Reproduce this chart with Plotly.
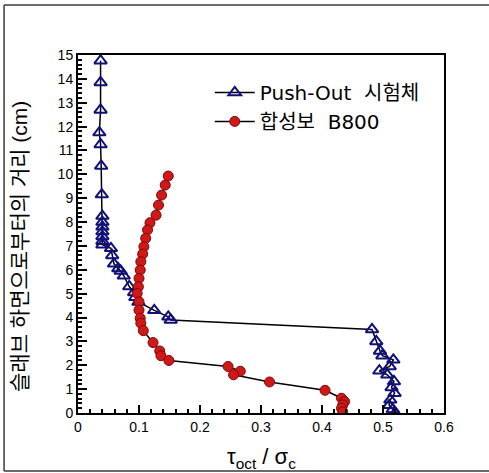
import plotly.graph_objects as go

# Push-Out specimen: stress ratio vs. height above slab bottom
push_x = [0.037, 0.037, 0.037, 0.035, 0.037, 0.038, 0.039, 0.040, 0.040, 0.040,
          0.040, 0.040, 0.040, 0.040, 0.054, 0.056, 0.059, 0.066, 0.070, 0.075,
          0.084, 0.092, 0.094, 0.099, 0.125, 0.148, 0.152, 0.482, 0.489, 0.495,
          0.499, 0.517, 0.511, 0.494, 0.507, 0.518, 0.514, 0.519, 0.512, 0.510,
          0.516, 0.520]
push_y = [14.76, 13.85, 12.70, 11.75, 11.25, 10.35, 9.15, 8.25, 8.0, 7.8,
          7.6, 7.4, 7.2, 7.05, 6.9, 6.6, 6.25, 6.05, 5.95, 5.75,
          5.3, 5.05, 4.85, 4.65, 4.3, 4.03, 3.9, 3.5, 3.0, 2.6,
          2.4, 2.23, 1.95, 1.77, 1.6, 1.32, 1.07, 0.83, 0.55, 0.32,
          0.15, 0.0]

# Composite beam B800
beam_x = [0.148, 0.143, 0.137, 0.132, 0.128, 0.118, 0.114, 0.111, 0.108, 0.106,
          0.103, 0.102, 0.100, 0.099, 0.097, 0.100, 0.100, 0.102, 0.103, 0.107,
          0.123, 0.134, 0.136, 0.149, 0.246, 0.266, 0.255, 0.314, 0.405, 0.432,
          0.437, 0.434, 0.432, 0.434]
beam_y = [9.93, 9.55, 9.13, 8.71, 8.29, 7.97, 7.67, 7.32, 6.97, 6.66,
          6.34, 5.99, 5.64, 5.29, 5.01, 4.66, 4.31, 3.97, 3.76, 3.45,
          2.95, 2.6, 2.4, 2.2, 1.95, 1.75, 1.6, 1.3, 0.95, 0.62,
          0.48, 0.34, 0.2, 0.05]

series_names = ["Push-Out\u00a0\u00a0시험체", "합성보\u00a0\u00a0B800"]
x_ticks = [0, 0.1, 0.2, 0.3, 0.4, 0.5, 0.6]
x_tick_text = ["0", "0.1", "0.2", "0.3", "0.4", "0.5", "0.6"]
y_ticks = list(range(0, 16))

FONT = "Liberation Sans, Noto Sans CJK KR, sans-serif"
LEGEND_FONT = "DejaVu Sans, Noto Sans CJK KR, sans-serif"

fig = go.Figure()
fig.add_trace(go.Scatter(
    x=push_x, y=push_y, name=series_names[0], mode="lines+markers",
    line=dict(color="black", width=1.5),
    marker=dict(symbol="triangle-up-open", size=11, color="#10107a",
                line=dict(width=2, color="#10107a")),
))
fig.add_trace(go.Scatter(
    x=beam_x, y=beam_y, name=series_names[1], mode="lines+markers",
    line=dict(color="black", width=1.5),
    marker=dict(symbol="circle", size=10, color="#d01818",
                line=dict(width=1, color="#7a0a0a")),
))

fig.update_xaxes(
    range=[0, 0.6], tickvals=x_ticks, ticktext=x_tick_text,
    ticks="inside", ticklen=8, tickwidth=1.5, tickcolor="black",
    minor=dict(dtick=0.02, ticks="inside", ticklen=4, tickcolor="black"),
    showline=True, linewidth=2, linecolor="black", mirror=True,
    showgrid=False, zeroline=False, automargin=False,
    tickfont=dict(family=FONT, size=14, color="black"),
)
fig.update_yaxes(
    range=[0, 15], tickvals=y_ticks,
    ticks="inside", ticklen=9, tickwidth=1.5, tickcolor="black",
    minor=dict(dtick=0.2, ticks="inside", ticklen=4, tickcolor="black"),
    showline=True, linewidth=2, linecolor="black", mirror=True,
    showgrid=False, zeroline=False, automargin=False,
    tickfont=dict(family=FONT, size=14, color="black"),
)

# outer frame: left, top and bottom edges
for x0, y0, x1, y1 in [(-0.202, -0.162, -0.202, 1.140),
                       (-0.202, 1.140, 1.2, 1.140),
                       (-0.202, -0.162, 1.2, -0.162)]:
    fig.add_shape(type="line", xref="paper", yref="paper",
                  x0=x0, y0=y0, x1=x1, y1=y1,
                  line=dict(color="#3a3a3a", width=1.5))

# axis titles
fig.add_annotation(
    text="τ<sub>oct</sub> / σ<sub>c</sub>",
    xref="paper", yref="paper", x=0.5, y=-0.125,
    xanchor="center", yanchor="middle",
    showarrow=False, font=dict(family=FONT, size=22, color="black"),
)
fig.add_annotation(
    text="슬래브 하면으로부터의 거리 (cm)", textangle=-90,
    xref="paper", yref="paper", x=-0.16, y=0.465,
    xanchor="center", yanchor="middle",
    showarrow=False, font=dict(family=FONT, size=21, color="black"),
)

fig.update_layout(
    width=489, height=473,
    margin=dict(l=78, r=45, t=55, b=60),
    paper_bgcolor="white", plot_bgcolor="white",
    showlegend=True,
    legend=dict(x=0.36, y=0.95, xanchor="left", yanchor="top",
                bgcolor="rgba(0,0,0,0)", borderwidth=0,
                font=dict(family=LEGEND_FONT, size=20, color="black"),
                itemwidth=40, tracegroupgap=4),
)

fig.write_html("out.html")
